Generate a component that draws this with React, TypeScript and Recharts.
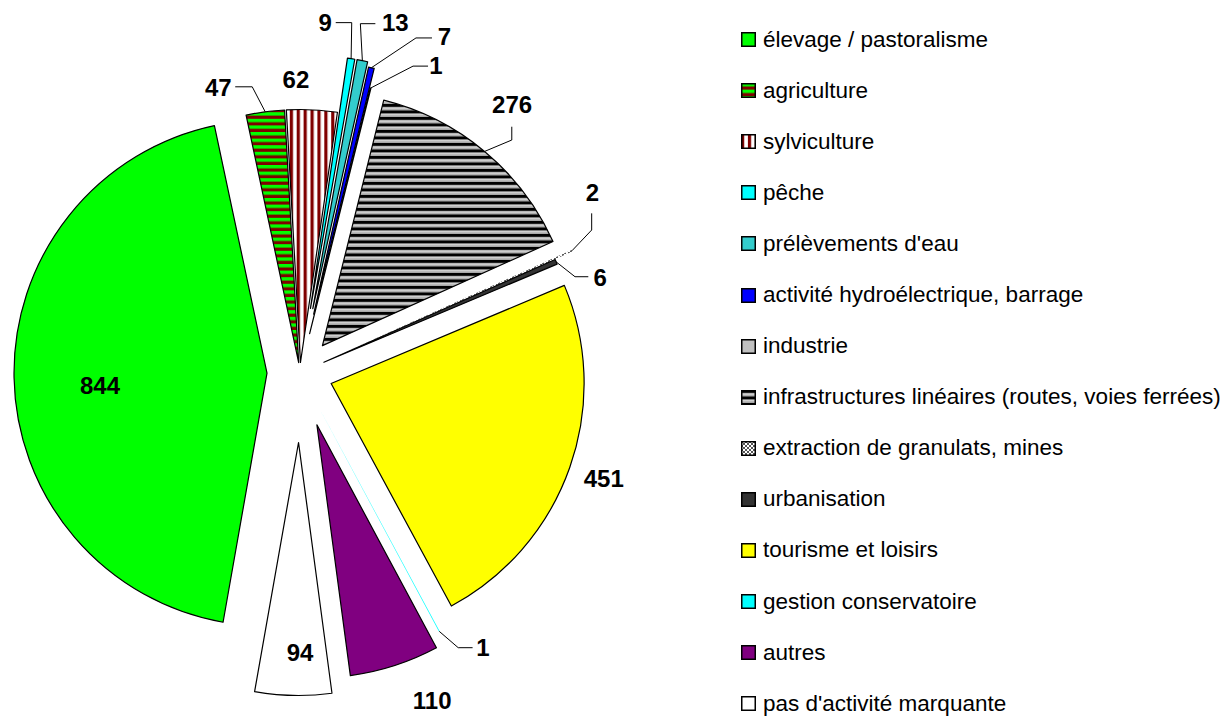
import React from "react";
import { PieChart, Pie, Cell, Sector, Legend } from "recharts";

document.body.style.margin = "0";

const CATEGORIES = [
  "élevage / pastoralisme",
  "agriculture",
  "sylviculture",
  "pêche",
  "prélèvements d'eau",
  "activité hydroélectrique, barrage",
  "industrie",
  "infrastructures linéaires (routes, voies ferrées)",
  "extraction de granulats, mines",
  "urbanisation",
  "tourisme et loisirs",
  "gestion conservatoire",
  "autres",
  "pas d'activité marquante",
];

const VALUES = [844, 47, 62, 9, 13, 7, 1, 276, 2, 6, 451, 1, 110, 94];

// fills (solid colours or svg patterns defined below)
const FILLS = [
  "#00FF00",
  "url(#pAgri)",
  "url(#pSylv)",
  "#00FFFF",
  "#33CCCC",
  "#0000FF",
  "#C0C0C0",
  "url(#pInfra)",
  "url(#pExtr)",
  "#333333",
  "#FFFF00",
  "#00FFFF",
  "#800080",
  "#FFFFFF",
];

// how far each slice is pulled out of the pie, px
const EXPLODE = [33, 10, 10, 65, 65, 60, 40, 35, 45, 26, 33, 41, 55, 70];

// the 1-2 unit slices are too thin to show an outline in the original
const NO_OUTLINE = [8, 11];

// label placement: "in" = from the slice apex, "out" = from the outer middle of the arc
type LabelSpec = { at: "in" | "out"; dx: number; dy: number; leader?: [number, number][] };
const LABEL_SPECS: LabelSpec[] = [
  { at: "in", dx: -167, dy: 12 },
  { at: "out", dx: -47, dy: -24, leader: [[-13, -25], [-30, -25]] },
  { at: "out", dx: -16, dy: -30 },
  { at: "out", dx: -26, dy: -36, leader: [[0.6, -36], [-15.4, -36]] },
  { at: "out", dx: 33, dy: -38, leader: [[-2, -37], [13, -37]] },
  { at: "out", dx: 73, dy: -31, leader: [[44.6, -29.8], [60.6, -29.8]] },
  { at: "out", dx: 65.5, dy: -23, leader: [[42.5, -22], [57.5, -22]] },
  { at: "out", dx: 27.5, dy: -47, leader: [[27.2, -11.4], [27.2, -24.7]] },
  { at: "out", dx: 20.5, dy: -58, leader: [[19.7, -20.7], [19.7, -37.4]] },
  { at: "out", dx: 44, dy: 15.7, leader: [[18.9, 14.9], [32.2, 14.9]] },
  { at: "out", dx: 34, dy: 11 },
  { at: "out", dx: 43.6, dy: 16.6, leader: [[18.9, 16.3], [33.3, 16.3]] },
  { at: "out", dx: 37.5, dy: 34.5 },
  { at: "in", dx: 1.5, dy: 210 },
];

const data = CATEGORIES.map((name, i) => ({ name, value: VALUES[i] }));

const FONT = "'Liberation Sans', Arial, sans-serif";
const RAD = Math.PI / 180;
const polar = (cx: number, cy: number, r: number, a: number) => ({
  x: cx + r * Math.cos(-a * RAD),
  y: cy + r * Math.sin(-a * RAD),
});

const Patterns = () => (
  <defs>
    <pattern id="pAgri" width="8" height="6.6" patternUnits="userSpaceOnUse">
      <rect width="8" height="6.6" fill="#00FF00" />
      <rect y="3.4" width="8" height="3.2" fill="#800000" />
    </pattern>
    <pattern id="pSylv" width="6.9" height="8" patternUnits="userSpaceOnUse">
      <rect width="6.9" height="8" fill="#FFFFFF" />
      <rect width="3.2" height="8" fill="#800000" />
    </pattern>
    <pattern id="pInfra" width="8" height="6.5" patternUnits="userSpaceOnUse">
      <rect width="8" height="6.5" fill="#A8A8A8" />
      <rect y="3.6" width="8" height="1.3" fill="#D8D8D8" />
      <rect width="8" height="2.8" fill="#000000" />
    </pattern>
    <pattern id="pExtr" width="4" height="4" patternUnits="userSpaceOnUse">
      <rect width="4" height="4" fill="#FFFFFF" />
      <rect width="2" height="2" fill="#555555" />
      <rect x="2" y="2" width="2" height="2" fill="#555555" />
    </pattern>
  </defs>
);

// draws the exploded slice, its leader line and its value
const renderSlice = (props: any) => {
  const { cx, cy, midAngle, startAngle, endAngle, outerRadius, index } = props;
  const d = EXPLODE[index];
  const apex = polar(cx, cy, d, midAngle);
  const spec = LABEL_SPECS[index];
  const base = spec.at === "in" ? apex : polar(cx, cy, outerRadius + d, midAngle);
  const tx = base.x + spec.dx;
  const ty = base.y + spec.dy;
  const pts = spec.leader
    ? [[0, 0], ...spec.leader].map(([x, y]) => `${base.x + x},${base.y + y}`).join(" ")
    : null;
  return (
    <g key={`slice-${index}`}>
      <Sector
        cx={apex.x}
        cy={apex.y}
        innerRadius={0}
        outerRadius={outerRadius}
        startAngle={startAngle}
        endAngle={endAngle}
        fill={FILLS[index]}
        stroke={NO_OUTLINE.includes(index) ? "none" : "#000"}
        strokeWidth={1.2}
        strokeLinejoin="round"
      />
      {pts && <polyline points={pts} fill="none" stroke="#000" strokeWidth={1} />}
      <text
        x={tx}
        y={ty}
        textAnchor="middle"
        dominantBaseline="central"
        fontFamily={FONT}
        fontWeight="bold"
        fontSize={24}
        fill="#000"
      >
        {VALUES[index]}
      </text>
    </g>
  );
};

const renderLegend = () => (
  <div style={{ paddingTop: 14, fontFamily: FONT, fontSize: 22.5, color: "#000" }}>
    {CATEGORIES.map((name, i) => (
      <div key={name} style={{ height: 51.1, display: "flex", alignItems: "center", whiteSpace: "nowrap" }}>
        <svg width={15} height={15} style={{ marginRight: 7, flex: "none" }}>
          <rect x={0.75} y={0.75} width={13.5} height={13.5} fill={FILLS[i]} stroke="#000" strokeWidth={1.5} />
        </svg>
        <span>{name}</span>
      </div>
    ))}
  </div>
);

export default function App() {
  return (
    <div style={{ width: 1230, height: 717, background: "#fff" }}>
      <PieChart width={1230} height={717} margin={{ top: 0, right: 0, bottom: 0, left: 0 }}>
        <Patterns />
        <Pie
          data={data}
          dataKey="value"
          nameKey="name"
          cx={300}
          cy={372.5}
          outerRadius={253}
          startAngle={-100}
          endAngle={-460}
          stroke="none"
          label={renderSlice}
          labelLine={false}
          isAnimationActive={false}
        >
          {data.map((entry, i) => (
            <Cell key={`cell-${i}`} fill="transparent" stroke="none" />
          ))}
        </Pie>
        <Legend
          layout="vertical"
          align="right"
          verticalAlign="top"
          content={renderLegend}
          wrapperStyle={{ left: 741, top: 0, right: "auto", width: 489 }}
        />
      </PieChart>
    </div>
  );
}
